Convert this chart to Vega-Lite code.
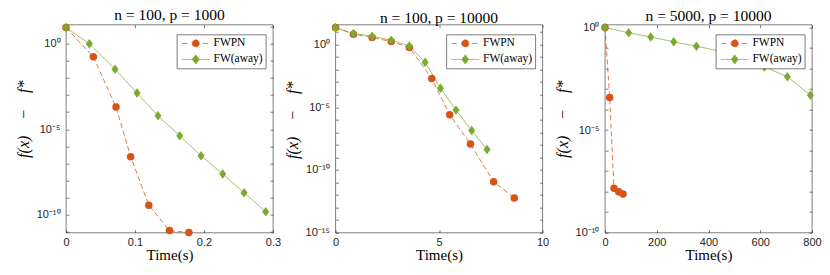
{
  "$schema": "https://vega.github.io/schema/vega-lite/v6.json",
  "padding": {"left": 14, "top": 7.7, "right": 5, "bottom": 5},
  "background": "white",
  "datasets": {
    "p1": [
      {"series": "FWPN", "t": 0, "v": 8.51},
      {"series": "FWPN", "t": 0.0396, "v": 0.166},
      {"series": "FWPN", "t": 0.0725, "v": 1.95e-4},
      {"series": "FWPN", "t": 0.0937, "v": 2.51e-7},
      {"series": "FWPN", "t": 0.120, "v": 3.72e-10},
      {"series": "FWPN", "t": 0.150, "v": 1.23e-11},
      {"series": "FWPN", "t": 0.178, "v": 9.5e-12},
      {"series": "FW(away)", "t": 0, "v": 8.51},
      {"series": "FW(away)", "t": 0.0338, "v": 0.955},
      {"series": "FW(away)", "t": 0.0710, "v": 0.0316},
      {"series": "FW(away)", "t": 0.1029, "v": 1.29e-3},
      {"series": "FW(away)", "t": 0.1333, "v": 6.03e-5},
      {"series": "FW(away)", "t": 0.1648, "v": 4.17e-6},
      {"series": "FW(away)", "t": 0.1957, "v": 2.82e-7},
      {"series": "FW(away)", "t": 0.2271, "v": 2.45e-8},
      {"series": "FW(away)", "t": 0.2580, "v": 2.0e-9},
      {"series": "FW(away)", "t": 0.2894, "v": 1.55e-10}
    ],
    "p2": [
      {"series": "FWPN", "t": 0, "v": 22.4},
      {"series": "FWPN", "t": 0.868, "v": 6.6},
      {"series": "FWPN", "t": 1.77, "v": 3.6},
      {"series": "FWPN", "t": 2.69, "v": 1.74},
      {"series": "FWPN", "t": 3.57, "v": 0.575},
      {"series": "FWPN", "t": 4.65, "v": 1.95e-3},
      {"series": "FWPN", "t": 5.52, "v": 2.51e-6},
      {"series": "FWPN", "t": 6.52, "v": 1.15e-8},
      {"series": "FWPN", "t": 7.64, "v": 1.15e-11},
      {"series": "FWPN", "t": 8.64, "v": 5.75e-13},
      {"series": "FW(away)", "t": 0, "v": 22.4},
      {"series": "FW(away)", "t": 0.868, "v": 7.52},
      {"series": "FW(away)", "t": 1.77, "v": 4.57},
      {"series": "FW(away)", "t": 2.69, "v": 2.19},
      {"series": "FW(away)", "t": 3.57, "v": 0.776},
      {"series": "FW(away)", "t": 4.33, "v": 0.0389},
      {"series": "FW(away)", "t": 5.07, "v": 3.31e-4},
      {"series": "FW(away)", "t": 5.82, "v": 5.89e-6},
      {"series": "FW(away)", "t": 6.58, "v": 1.41e-7},
      {"series": "FW(away)", "t": 7.32, "v": 4.37e-9}
    ],
    "p3": [
      {"series": "FWPN", "t": 0, "v": 1.0},
      {"series": "FWPN", "t": 18.2, "v": 3.89e-4},
      {"series": "FWPN", "t": 34.8, "v": 1.45e-8},
      {"series": "FWPN", "t": 53, "v": 1.0e-8},
      {"series": "FWPN", "t": 69.6, "v": 7.6e-9},
      {"series": "FW(away)", "t": 0, "v": 1.0},
      {"series": "FW(away)", "t": 91.6, "v": 0.55},
      {"series": "FW(away)", "t": 176.7, "v": 0.347},
      {"series": "FW(away)", "t": 265.6, "v": 0.2},
      {"series": "FW(away)", "t": 353.3, "v": 0.123},
      {"series": "FW(away)", "t": 440.7, "v": 0.0708},
      {"series": "FW(away)", "t": 528, "v": 0.0331},
      {"series": "FW(away)", "t": 616, "v": 0.012},
      {"series": "FW(away)", "t": 705, "v": 3.98e-3},
      {"series": "FW(away)", "t": 794, "v": 5.0e-4}
    ]
  },
  "bounds": "flush",
  "spacing": 62.5,
  "hconcat": [
    {
      "width": 207, "height": 208,
      "title": {"text": "n = 100, p = 1000"},
      "data": {"name": "p1"},
      "layer": [
        {
          "mark": {"type": "line", "strokeWidth": 0.8},
          "encoding": {
            "x": {"field": "t", "type": "quantitative", "scale": {"domain": [0, 0.3], "nice": false, "zero": false},
                  "axis": {"orient": "bottom", "values": [0, 0.1, 0.2, 0.3], "format": "~r", "title": "Time(s)"}},
            "y": {"field": "v", "type": "quantitative", "scale": {"type": "log", "domain": [9.3e-12, 12.4], "nice": false},
                  "axis": {"orient": "left", "values": [1e-11, 1e-10, 1e-9, 1e-8, 1e-7, 1e-6, 1e-5, 1e-4, 1e-3, 1e-2, 1e-1, 1, 10],
                           "labelExpr": "datum.value == 1 ? '10⁰' : datum.value == 1e-5 ? '10⁻⁵' : datum.value == 1e-10 ? '10⁻¹⁰' : datum.value == 1e-15 ? '10⁻¹⁵' : ''",
                           "title": "f(x)\u2003−\u2003f*", "titleFontStyle": "italic", "titleY": 94}},
            "color": {"field": "series", "type": "nominal",
                      "scale": {"domain": ["FWPN", "FW(away)"], "range": ["#D95319", "#77AC30"]},
                      "legend": {"title": null, "orient": "none", "legendX": 111, "legendY": 10,
                        "symbolType": {"expr": "datum.value === 'FWPN' ? 'M-3.4,0L-1.75,0M1.75,0L3.6,0M0.9,0A0.9,0.9,0,1,1,-0.9,0A0.9,0.9,0,1,1,0.9,0Z' : 'M-3.5,0L3.5,0M0,-1.15L0.85,0L0,1.15L-0.85,0Z'"},
                        "symbolFillColor": {"expr": "datum.value === 'FWPN' ? '#D95319' : '#77AC30'"},
                        "symbolStrokeColor": {"expr": "datum.value === 'FWPN' ? '#D95319' : '#77AC30'"}}},
            "strokeDash": {"field": "series", "type": "nominal", "scale": {"domain": ["FWPN", "FW(away)"], "range": [[5, 3], [1, 0]]}, "legend": null}
          }
        },
        {
          "transform": [{"filter": "datum.series === 'FWPN'"}],
          "mark": {"type": "point", "filled": true, "opacity": 1, "strokeWidth": 0, "shape": "circle", "size": 56, "color": "#D95319"},
          "encoding": {
            "x": {"field": "t", "type": "quantitative", "scale": {"domain": [0, 0.3], "nice": false, "zero": false},
                  "axis": {"orient": "top", "values": [0, 0.1, 0.2, 0.3], "labels": false, "title": null}},
            "y": {"field": "v", "type": "quantitative", "scale": {"type": "log", "domain": [9.3e-12, 12.4], "nice": false},
                  "axis": {"orient": "right", "values": [1e-11, 1e-10, 1e-9, 1e-8, 1e-7, 1e-6, 1e-5, 1e-4, 1e-3, 1e-2, 1e-1, 1, 10], "labels": false, "title": null}}
          }
        },
        {
          "transform": [{"filter": "datum.series === 'FW(away)'"}],
          "mark": {"type": "point", "filled": true, "opacity": 1, "strokeWidth": 0, "shape": "M0,-1L0.74,0L0,1L-0.74,0Z", "size": 90, "color": "#77AC30"},
          "encoding": {
            "x": {"field": "t", "type": "quantitative", "scale": {"domain": [0, 0.3], "nice": false, "zero": false}, "axis": null},
            "y": {"field": "v", "type": "quantitative", "scale": {"type": "log", "domain": [9.3e-12, 12.4], "nice": false}, "axis": null}
          }
        }
      ],
      "resolve": {"axis": {"x": "independent", "y": "independent"}}
    },
    {
      "width": 207, "height": 208,
      "title": {"text": "n = 100, p = 10000"},
      "data": {"name": "p2"},
      "layer": [
        {
          "mark": {"type": "line", "strokeWidth": 0.8},
          "encoding": {
            "x": {"field": "t", "type": "quantitative", "scale": {"domain": [0, 10], "nice": false, "zero": false},
                  "axis": {"orient": "bottom", "values": [0, 5, 10], "format": "~r", "title": "Time(s)"}},
            "y": {"field": "v", "type": "quantitative", "scale": {"type": "log", "domain": [1e-15, 38], "nice": false},
                  "axis": {"orient": "left", "values": [1e-15, 1e-14, 1e-13, 1e-12, 1e-11, 1e-10, 1e-9, 1e-8, 1e-7, 1e-6, 1e-5, 1e-4, 1e-3, 1e-2, 1e-1, 1, 10],
                           "labelExpr": "datum.value == 1 ? '10⁰' : datum.value == 1e-5 ? '10⁻⁵' : datum.value == 1e-10 ? '10⁻¹⁰' : datum.value == 1e-15 ? '10⁻¹⁵' : ''",
                           "title": "f(x)\u2003−\u2003f*", "titleFontStyle": "italic", "titleY": 95}},
            "color": {"field": "series", "type": "nominal",
                      "scale": {"domain": ["FWPN", "FW(away)"], "range": ["#D95319", "#77AC30"]},
                      "legend": {"title": null, "orient": "none", "legendX": 111, "legendY": 10,
                        "symbolType": {"expr": "datum.value === 'FWPN' ? 'M-3.4,0L-1.75,0M1.75,0L3.6,0M0.9,0A0.9,0.9,0,1,1,-0.9,0A0.9,0.9,0,1,1,0.9,0Z' : 'M-3.5,0L3.5,0M0,-1.15L0.85,0L0,1.15L-0.85,0Z'"},
                        "symbolFillColor": {"expr": "datum.value === 'FWPN' ? '#D95319' : '#77AC30'"},
                        "symbolStrokeColor": {"expr": "datum.value === 'FWPN' ? '#D95319' : '#77AC30'"}}},
            "strokeDash": {"field": "series", "type": "nominal", "scale": {"domain": ["FWPN", "FW(away)"], "range": [[5, 3], [1, 0]]}, "legend": null}
          }
        },
        {
          "transform": [{"filter": "datum.series === 'FWPN'"}],
          "mark": {"type": "point", "filled": true, "opacity": 1, "strokeWidth": 0, "shape": "circle", "size": 56, "color": "#D95319"},
          "encoding": {
            "x": {"field": "t", "type": "quantitative", "scale": {"domain": [0, 10], "nice": false, "zero": false},
                  "axis": {"orient": "top", "values": [0, 5, 10], "labels": false, "title": null}},
            "y": {"field": "v", "type": "quantitative", "scale": {"type": "log", "domain": [1e-15, 38], "nice": false},
                  "axis": {"orient": "right", "values": [1e-15, 1e-14, 1e-13, 1e-12, 1e-11, 1e-10, 1e-9, 1e-8, 1e-7, 1e-6, 1e-5, 1e-4, 1e-3, 1e-2, 1e-1, 1, 10], "labels": false, "title": null}}
          }
        },
        {
          "transform": [{"filter": "datum.series === 'FW(away)'"}],
          "mark": {"type": "point", "filled": true, "opacity": 1, "strokeWidth": 0, "shape": "M0,-1L0.74,0L0,1L-0.74,0Z", "size": 90, "color": "#77AC30"},
          "encoding": {
            "x": {"field": "t", "type": "quantitative", "scale": {"domain": [0, 10], "nice": false, "zero": false}, "axis": null},
            "y": {"field": "v", "type": "quantitative", "scale": {"type": "log", "domain": [1e-15, 38], "nice": false}, "axis": null}
          }
        }
      ],
      "resolve": {"axis": {"x": "independent", "y": "independent"}}
    },
    {
      "width": 207, "height": 208,
      "title": {"text": "n = 5000, p = 10000"},
      "data": {"name": "p3"},
      "layer": [
        {
          "mark": {"type": "line", "strokeWidth": 0.8},
          "encoding": {
            "x": {"field": "t", "type": "quantitative", "scale": {"domain": [0, 800], "nice": false, "zero": false},
                  "axis": {"orient": "bottom", "values": [0, 200, 400, 600, 800], "format": "~r", "title": "Time(s)"}},
            "y": {"field": "v", "type": "quantitative", "scale": {"type": "log", "domain": [1e-10, 1.37], "nice": false},
                  "axis": {"orient": "left", "values": [1e-10, 1e-9, 1e-8, 1e-7, 1e-6, 1e-5, 1e-4, 1e-3, 1e-2, 1e-1, 1],
                           "labelExpr": "datum.value == 1 ? '10⁰' : datum.value == 1e-5 ? '10⁻⁵' : datum.value == 1e-10 ? '10⁻¹⁰' : datum.value == 1e-15 ? '10⁻¹⁵' : ''",
                           "title": "f(x)\u2003−\u2003f*", "titleFontStyle": "italic", "titleY": 94}},
            "color": {"field": "series", "type": "nominal",
                      "scale": {"domain": ["FWPN", "FW(away)"], "range": ["#D95319", "#77AC30"]},
                      "legend": {"title": null, "orient": "none", "legendX": 111, "legendY": 10,
                        "symbolType": {"expr": "datum.value === 'FWPN' ? 'M-3.4,0L-1.75,0M1.75,0L3.6,0M0.9,0A0.9,0.9,0,1,1,-0.9,0A0.9,0.9,0,1,1,0.9,0Z' : 'M-3.5,0L3.5,0M0,-1.15L0.85,0L0,1.15L-0.85,0Z'"},
                        "symbolFillColor": {"expr": "datum.value === 'FWPN' ? '#D95319' : '#77AC30'"},
                        "symbolStrokeColor": {"expr": "datum.value === 'FWPN' ? '#D95319' : '#77AC30'"}}},
            "strokeDash": {"field": "series", "type": "nominal", "scale": {"domain": ["FWPN", "FW(away)"], "range": [[5, 3], [1, 0]]}, "legend": null}
          }
        },
        {
          "transform": [{"filter": "datum.series === 'FWPN'"}],
          "mark": {"type": "point", "filled": true, "opacity": 1, "strokeWidth": 0, "shape": "circle", "size": 56, "color": "#D95319"},
          "encoding": {
            "x": {"field": "t", "type": "quantitative", "scale": {"domain": [0, 800], "nice": false, "zero": false},
                  "axis": {"orient": "top", "values": [0, 200, 400, 600, 800], "labels": false, "title": null}},
            "y": {"field": "v", "type": "quantitative", "scale": {"type": "log", "domain": [1e-10, 1.37], "nice": false},
                  "axis": {"orient": "right", "values": [1e-10, 1e-9, 1e-8, 1e-7, 1e-6, 1e-5, 1e-4, 1e-3, 1e-2, 1e-1, 1], "labels": false, "title": null}}
          }
        },
        {
          "transform": [{"filter": "datum.series === 'FW(away)'"}],
          "mark": {"type": "point", "filled": true, "opacity": 1, "strokeWidth": 0, "shape": "M0,-1L0.74,0L0,1L-0.74,0Z", "size": 90, "color": "#77AC30"},
          "encoding": {
            "x": {"field": "t", "type": "quantitative", "scale": {"domain": [0, 800], "nice": false, "zero": false}, "axis": null},
            "y": {"field": "v", "type": "quantitative", "scale": {"type": "log", "domain": [1e-10, 1.37], "nice": false}, "axis": null}
          }
        }
      ],
      "resolve": {"axis": {"x": "independent", "y": "independent"}}
    }
  ],
  "resolve": {
    "scale": {"color": "independent", "strokeDash": "independent"},
    "legend": {"color": "independent"}
  },
  "config": {
    "view": {"stroke": "#262626", "strokeWidth": 0.6},
    "style": {"guide-title": {"fontWeight": "normal"}, "guide-label": {"fontWeight": "normal"}},
    "axis": {"domain": false, "grid": false, "ticks": true, "tickSize": -3, "tickColor": "#262626", "tickWidth": 0.6,
             "labelFont": "Liberation Sans", "labelFontSize": 11, "labelColor": "#262626", "labelFlush": false, "labelOverlap": false,
             "titleFont": "Liberation Serif", "titleFontSize": 15, "titleFontWeight": "normal", "titleColor": "#000000"},
    "axisY": {"labelPadding": 9, "titlePadding": 5, "titleFontSize": 16},
    "axisX": {"labelPadding": 7, "titlePadding": 0},
    "title": {"font": "Liberation Serif", "fontSize": 15.5, "fontWeight": "normal", "color": "#000000", "offset": -3.2, "anchor": "middle"},
    "legend": {"fillColor": "white", "strokeColor": "#262626", "strokeWidth": 0.6, "padding": 3, "cornerRadius": 0,
               "labelFont": "Liberation Serif", "labelFontSize": 11.5, "labelColor": "#000000", "labelFontWeight": "normal",
               "symbolSize": 64, "symbolOffset": 10, "labelOffset": 12, "rowPadding": 3, "symbolStrokeWidth": 0.8, "symbolDash": [1, 0], "symbolOpacity": 1}
  }
}
